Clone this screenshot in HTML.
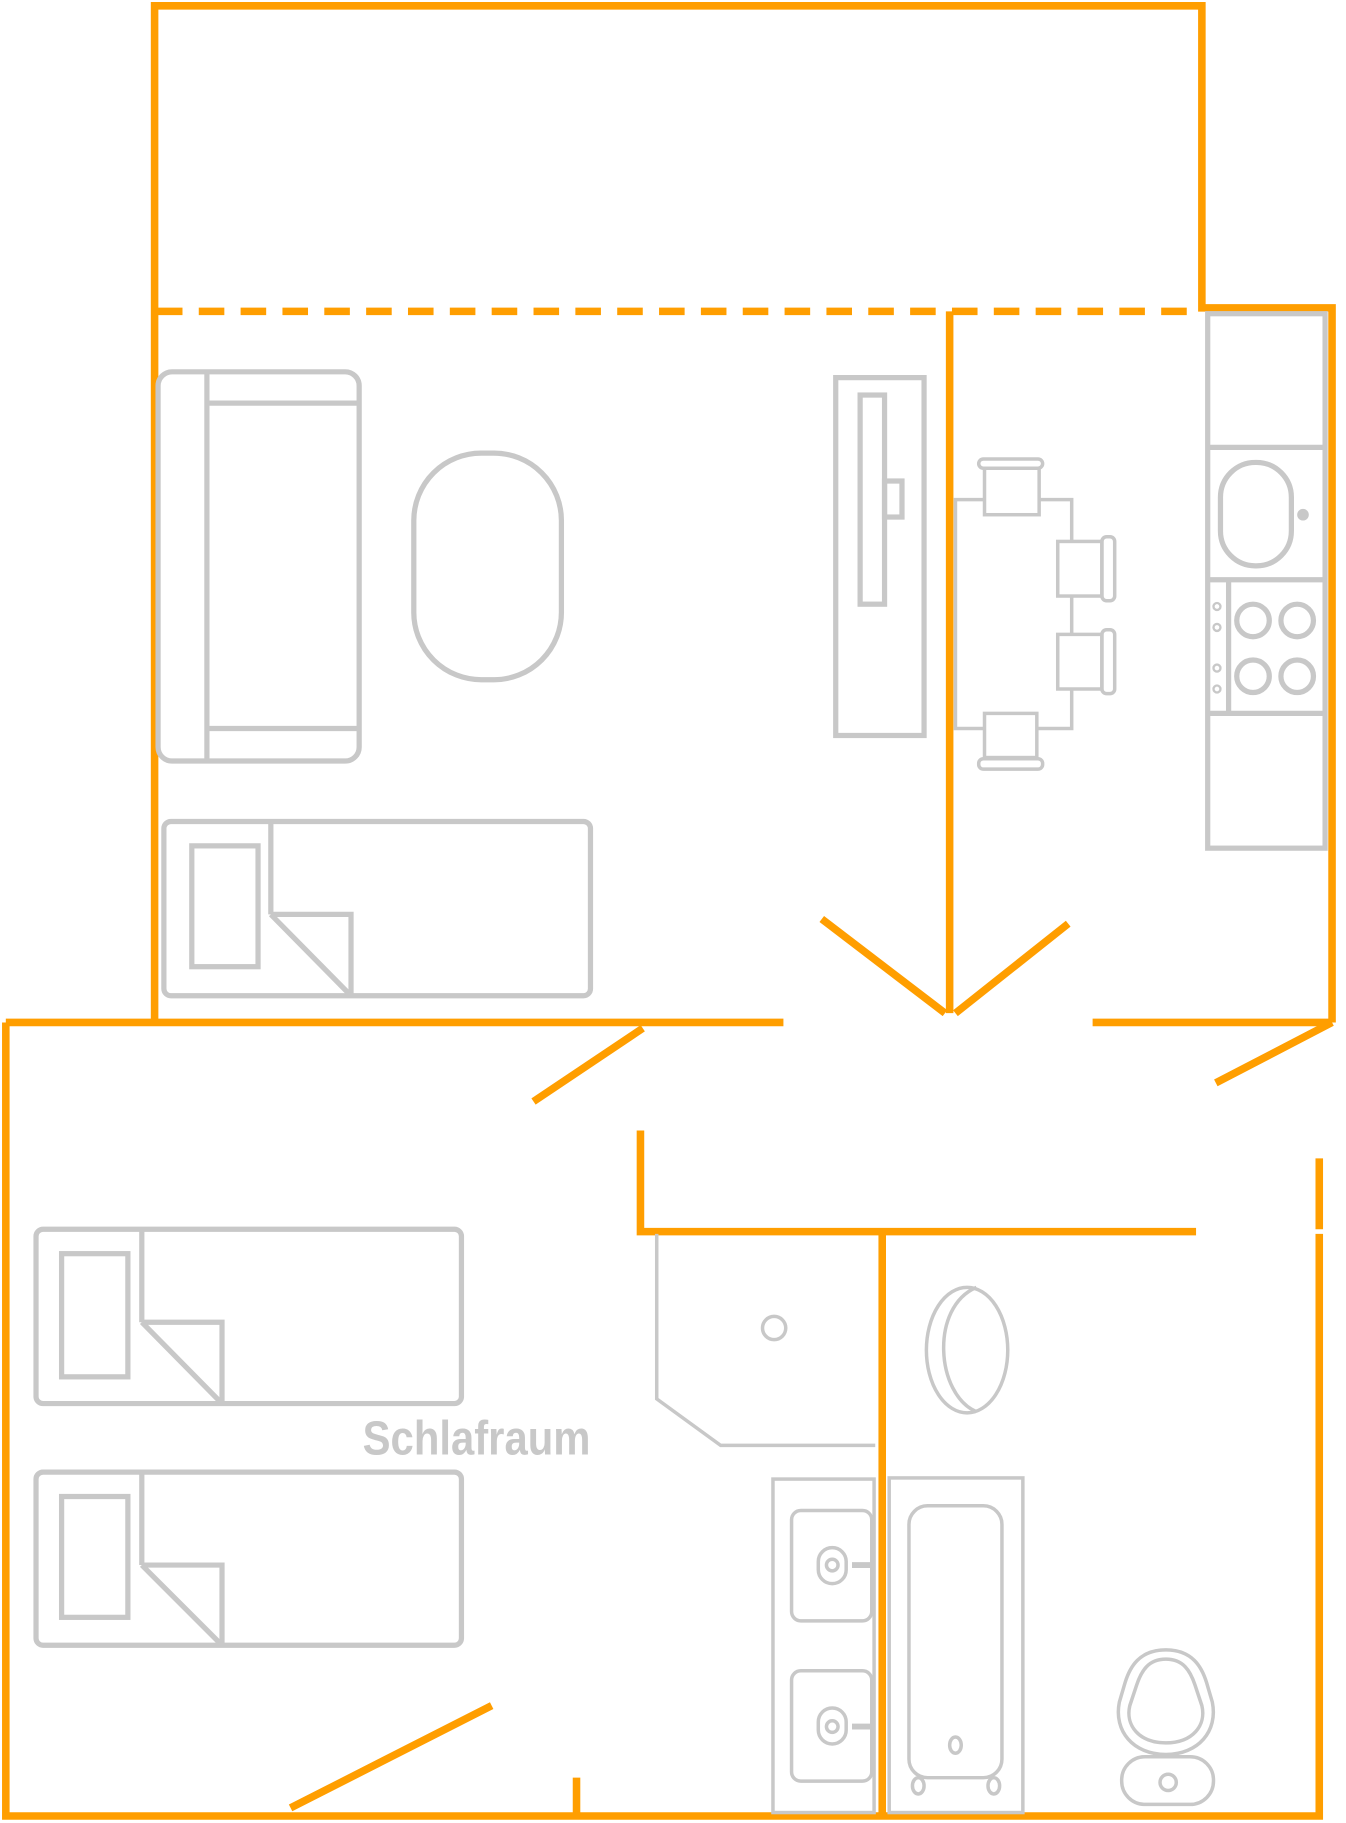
<!DOCTYPE html>
<html><head><meta charset="utf-8"><style>html,body{margin:0;padding:0;background:#fff}svg{display:block}</style></head>
<body>
<svg width="1346" height="1823" viewBox="0 0 1158 1569" preserveAspectRatio="none" xmlns="http://www.w3.org/2000/svg">
<g fill="none" stroke="#FF9E00" stroke-width="6.5" stroke-linecap="butt">
<polyline points="133,880 133,5 1034,5 1034,265 1146,265 1146,880"/>
<line x1="135" y1="268" x2="1034" y2="268" stroke-dasharray="22,14"/>
<line x1="817" y1="268" x2="817" y2="872"/>
<line x1="707" y1="791" x2="813" y2="872"/>
<line x1="919" y1="795" x2="822" y2="872"/>
<line x1="5" y1="880" x2="674" y2="880"/>
<line x1="940" y1="880" x2="1146" y2="880"/>
<line x1="1146" y1="880" x2="1046" y2="932"/>
<line x1="553" y1="885" x2="459" y2="948"/>
<polyline points="5,880 5,1563 1135,1563 1135,1062"/>
<line x1="1135" y1="997" x2="1135" y2="1058"/>
<polyline points="551,973 551,1060 1029,1060"/>
<line x1="759" y1="1060" x2="759" y2="1563"/>
<line x1="250" y1="1556" x2="423" y2="1468"/>
<line x1="496" y1="1530" x2="496" y2="1563"/>
</g>
<g fill="none" stroke="#C8C8C8" stroke-width="4.5">
<rect x="136" y="320" width="173" height="335" rx="12"/>
<line x1="178" y1="320" x2="178" y2="655"/>
<line x1="178" y1="347" x2="307" y2="347"/>
<line x1="178" y1="627" x2="307" y2="627"/>
<rect x="356" y="390" width="127" height="195" rx="58"/>
<rect x="141" y="707" width="367" height="150" rx="6"/>
<rect x="165" y="728" width="57" height="104"/>
<line x1="233" y1="707" x2="233" y2="787"/>
<polyline points="233,787 302,787 302,857"/>
<line x1="233" y1="787" x2="302" y2="857"/>
<rect x="719" y="325" width="76" height="308"/>
<rect x="740" y="340" width="21" height="180"/>
<rect x="761" y="414" width="15" height="31"/>
</g>
<g fill="none" stroke="#C8C8C8" stroke-width="3">
<rect x="822" y="430" width="100" height="197"/>
<rect x="847" y="403" width="47" height="40" fill="#fff"/>
<rect x="842" y="395" width="55" height="8" rx="4"/>
<rect x="910" y="466" width="38" height="47" fill="#fff"/>
<rect x="948" y="462" width="11" height="55" rx="4"/>
<rect x="910" y="546" width="38" height="47" fill="#fff"/>
<rect x="948" y="542" width="11" height="55" rx="4"/>
<rect x="847" y="614" width="45" height="38" fill="#fff"/>
<rect x="842" y="653" width="55" height="9" rx="4"/>
</g>
<g fill="none" stroke="#C8C8C8" stroke-width="4.5">
<rect x="1039" y="270" width="101" height="460"/>
<line x1="1039" y1="385" x2="1140" y2="385"/>
<line x1="1039" y1="499" x2="1140" y2="499"/>
<line x1="1039" y1="614" x2="1140" y2="614"/>
<rect x="1050" y="398" width="61" height="89" rx="30"/>
<line x1="1057" y1="499" x2="1057" y2="614"/>
<circle cx="1078" cy="534" r="14"/><circle cx="1116" cy="534" r="14"/>
<circle cx="1078" cy="582" r="14"/><circle cx="1116" cy="582" r="14"/>
</g>
<circle cx="1121" cy="443" r="5" fill="#C8C8C8"/>
<g fill="none" stroke="#C8C8C8" stroke-width="2">
<circle cx="1047" cy="522" r="3"/><circle cx="1047" cy="540" r="3"/>
<circle cx="1047" cy="575" r="3"/><circle cx="1047" cy="593" r="3"/>
</g>
<g fill="none" stroke="#C8C8C8" stroke-width="3">
<polyline points="565,1062 565,1204 620,1244 753,1244"/>
<circle cx="666" cy="1143" r="10"/>
<rect x="665" y="1273" width="87" height="287"/>
<rect x="681" y="1300" width="69" height="95" rx="8"/>
<rect x="681" y="1438" width="69" height="95" rx="8"/>
<rect x="704" y="1332" width="24" height="31" rx="12"/>
<circle cx="716" cy="1347" r="5"/>
<rect x="704" y="1470" width="24" height="31" rx="12"/>
<circle cx="716" cy="1486" r="5"/>
<line x1="733" y1="1347" x2="752" y2="1347" stroke-width="5"/>
<line x1="733" y1="1486" x2="752" y2="1486" stroke-width="5"/>
<rect x="765" y="1272" width="115" height="288"/>
<rect x="782" y="1296" width="80" height="234" rx="16"/>
<ellipse cx="822" cy="1502" rx="5" ry="7"/>
<ellipse cx="790" cy="1537" rx="5" ry="7"/>
<ellipse cx="855" cy="1537" rx="5" ry="7"/>
<ellipse cx="832" cy="1162" rx="35" ry="54"/>
<path d="M840,1108 C800,1125 805,1200 840,1215"/>
<path d="M1003,1420 C980,1420 972,1435 968,1448 L963,1465 C958,1490 975,1510 1003,1510 C1031,1510 1048,1490 1043,1465 L1038,1448 C1034,1435 1026,1420 1003,1420 Z"/>
<path d="M1003,1428 C988,1428 982,1438 978,1450 L972,1468 C968,1485 980,1500 1003,1500 C1026,1500 1038,1485 1034,1468 L1028,1450 C1024,1438 1018,1428 1003,1428 Z"/>
<rect x="965" y="1512" width="79" height="41" rx="20" fill="#fff"/>
<circle cx="1005" cy="1534" r="7"/>
</g>
<text transform="translate(312,1252) scale(1,1.3)" x="0" y="0" font-family="Liberation Sans, sans-serif" font-weight="bold" font-size="32" fill="#C8C8C8" textLength="196" lengthAdjust="spacingAndGlyphs">Schlafraum</text>
<g fill="none" stroke="#C8C8C8" stroke-width="4.5">
<rect x="31" y="1058" width="366" height="150" rx="6"/>
<rect x="53" y="1079" width="57" height="106"/>
<line x1="122" y1="1058" x2="122" y2="1138"/>
<polyline points="122,1138 191,1138 191,1208"/>
<line x1="122" y1="1138" x2="191" y2="1208"/>
<rect x="31" y="1267" width="366" height="149" rx="6"/>
<rect x="53" y="1288" width="57" height="104"/>
<line x1="122" y1="1267" x2="122" y2="1347"/>
<polyline points="122,1347 191,1347 191,1416"/>
<line x1="122" y1="1347" x2="191" y2="1416"/>
</g>
</svg>
</body></html>
